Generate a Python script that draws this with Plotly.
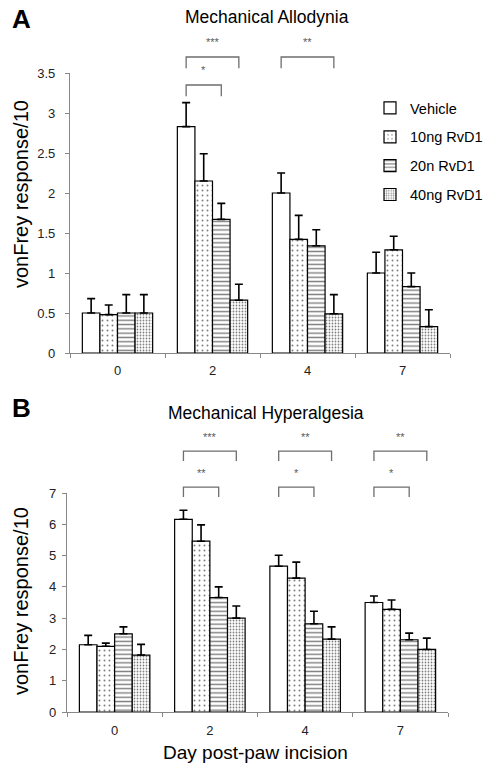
import plotly.graph_objects as go

# page body has an 8px default margin; the figure is sized to fit the 493x771 window
OFF = 8
W, H = 493 - OFF, 771 - OFF

def px(x):
    return (x - OFF) / W

def py(y):
    return 1 - (y - OFF) / H

days = ["0", "2", "4", "7"]
series = ["Vehicle", "10ng RvD1", "20n RvD1", "40ng RvD1"]

# Panel A: Mechanical Allodynia
allo_vehicle = [0.50, 2.83, 2.00, 1.00]
allo_10ng = [0.48, 2.15, 1.42, 1.29]
allo_20n = [0.50, 1.67, 1.34, 0.83]
allo_40ng = [0.50, 0.66, 0.49, 0.33]
allo_sem_vehicle = [0.18, 0.30, 0.25, 0.26]
allo_sem_10ng = [0.12, 0.34, 0.30, 0.17]
allo_sem_20n = [0.23, 0.20, 0.20, 0.17]
allo_sem_40ng = [0.23, 0.20, 0.24, 0.21]

# Panel B: Mechanical Hyperalgesia
hyper_vehicle = [2.15, 6.16, 4.66, 3.50]
hyper_10ng = [2.10, 5.46, 4.28, 3.28]
hyper_20n = [2.50, 3.66, 2.82, 2.31]
hyper_40ng = [1.82, 3.00, 2.33, 2.00]
hyper_sem_vehicle = [0.30, 0.29, 0.35, 0.21]
hyper_sem_10ng = [0.10, 0.52, 0.51, 0.30]
hyper_sem_20n = [0.22, 0.34, 0.40, 0.21]
hyper_sem_40ng = [0.34, 0.39, 0.39, 0.36]

# significance brackets: (group index, from series, to series, bracket level, label)
allo_brackets = [(1, 0, 3, 3.70, "***"), (1, 0, 2, 3.35, "*"), (2, 0, 3, 3.70, "**")]
hyper_brackets = [(1, 0, 3, 8.34, "***"), (1, 0, 2, 7.19, "**"),
                  (2, 0, 3, 8.34, "**"), (2, 0, 2, 7.19, "*"),
                  (3, 0, 3, 8.34, "**"), (3, 0, 2, 7.19, "*")]

patterns = [
    dict(shape=""),
    dict(shape=".", size=5, solidity=0.12, fgcolor="black", bgcolor="white", fillmode="overlay"),
    dict(shape="-", size=4.3, solidity=0.33, fgcolor="black", bgcolor="white", fillmode="overlay"),
    dict(shape=".", size=3, solidity=0.28, fgcolor="black", bgcolor="white", fillmode="overlay"),
]

BARGAP = 0.26

fig = go.Figure()

panels = [
    dict(vals=[allo_vehicle, allo_10ng, allo_20n, allo_40ng],
         sems=[allo_sem_vehicle, allo_sem_10ng, allo_sem_20n, allo_sem_40ng],
         xa="x", ya="y", showleg=True, brackets=allo_brackets,
         dom_y=[py(353), py(73)], rng=[0, 3.5], dom_x=[px(70), px(450)],
         ticks=[0, 0.5, 1, 1.5, 2, 2.5, 3, 3.5], drop=0.14, txt=0.19, ytitle_y=194,
         ystand=7),
    dict(vals=[hyper_vehicle, hyper_10ng, hyper_20n, hyper_40ng],
         sems=[hyper_sem_vehicle, hyper_sem_10ng, hyper_sem_20n, hyper_sem_40ng],
         xa="x2", ya="y2", showleg=False, brackets=hyper_brackets,
         dom_y=[py(712), py(493)], rng=[0, 7], dom_x=[px(67), px(448)],
         ticks=[0, 1, 2, 3, 4, 5, 6, 7], drop=0.32, txt=0.45, ytitle_y=601,
         ystand=3),
]

for p in panels:
    for i, name in enumerate(series):
        fig.add_trace(go.Bar(
            x=days, y=p["vals"][i], name=name, xaxis=p["xa"], yaxis=p["ya"],
            showlegend=p["showleg"], legendgroup=name,
            marker=dict(color="white", line=dict(color="black", width=1.2),
                        pattern=patterns[i]),
            error_y=dict(type="data", symmetric=False, array=p["sems"][i],
                         arrayminus=[0] * len(days), color="black",
                         thickness=1.6, width=4),
        ))

shapes = []
annotations = []

def offset(i):
    w = (1 - BARGAP) / len(series)
    return -(1 - BARGAP) / 2 + (i + 0.5) * w

for p in panels:
    d0, d1 = p["dom_y"]
    r0, r1 = p["rng"]
    def to_paper(v, d0=d0, d1=d1, r0=r0, r1=r1):
        return d0 + (v - r0) / (r1 - r0) * (d1 - d0)
    for g, a, b, lvl, lab in p["brackets"]:
        xa_ = g + offset(a)
        xb_ = g + offset(b)
        ytop = to_paper(lvl)
        ybot = to_paper(lvl - p["drop"])
        shapes.append(dict(type="path", xref=p["xa"], yref="paper",
                           path=f"M {xa_},{ybot} L {xa_},{ytop} L {xb_},{ytop} L {xb_},{ybot}",
                           line=dict(color="#6e6e6e", width=1.3)))
        annotations.append(dict(x=(xa_ + xb_) / 2, y=to_paper(lvl + p["txt"]),
                                xref=p["xa"], yref="paper", text=lab, showarrow=False,
                                font=dict(size=11, color="#5a5a5a"),
                                xanchor="center", yanchor="middle"))
    annotations.append(dict(x=px(21), y=py(p["ytitle_y"]), xref="paper", yref="paper",
                            text="vonFrey response/10", textangle=-90, showarrow=False,
                            font=dict(size=20, color="black"), xanchor="center", yanchor="middle"))

font_family = "Liberation Sans, Arial, sans-serif"
annotations += [
    dict(x=px(21), y=py(19), xref="paper", yref="paper", text="<b>A</b>", showarrow=False,
         font=dict(size=26, color="black"), xanchor="center", yanchor="middle"),
    dict(x=px(267), y=py(17), xref="paper", yref="paper", text="Mechanical Allodynia",
         showarrow=False, font=dict(size=17.5, color="black"), xanchor="center", yanchor="middle"),
    dict(x=px(21), y=py(408), xref="paper", yref="paper", text="<b>B</b>", showarrow=False,
         font=dict(size=26, color="black"), xanchor="center", yanchor="middle"),
    dict(x=px(266), y=py(413), xref="paper", yref="paper", text="Mechanical Hyperalgesia",
         showarrow=False, font=dict(size=17.5, color="black"), xanchor="center", yanchor="middle"),
    dict(x=px(256), y=py(752), xref="paper", yref="paper", text="Day post-paw incision",
         showarrow=False, font=dict(size=19, color="black"), xanchor="center", yanchor="middle"),
]

axis_common = dict(showline=True, linecolor="#888888", linewidth=1.2, showgrid=False,
                   zeroline=False, ticks="outside", tickcolor="#888888", ticklen=4,
                   automargin=False, tickfont=dict(size=13, color="#222222"))

p0, p1 = panels
fig.update_layout(
    width=W, height=H, margin=dict(l=0, r=0, t=0, b=0),
    paper_bgcolor="white", plot_bgcolor="white",
    font=dict(family=font_family, color="black"),
    barmode="group", bargap=BARGAP, bargroupgap=0,
    xaxis=dict(domain=p0["dom_x"], anchor="y", type="category", tickson="boundaries",
               ticklabelstandoff=5, **axis_common),
    yaxis=dict(domain=p0["dom_y"], anchor="x", range=p0["rng"], tickvals=p0["ticks"],
               ticklabelstandoff=p0["ystand"], **axis_common),
    xaxis2=dict(domain=p1["dom_x"], anchor="y2", type="category", tickson="boundaries",
                ticklabelstandoff=6, **axis_common),
    yaxis2=dict(domain=p1["dom_y"], anchor="x2", range=p1["rng"], tickvals=p1["ticks"],
                ticklabelstandoff=p1["ystand"], **axis_common),
    legend=dict(x=px(370), y=py(92), xanchor="left", yanchor="top",
                font=dict(size=14.5), tracegroupgap=7, bgcolor="rgba(0,0,0,0)"),
    shapes=shapes, annotations=annotations,
)

fig.write_html("out.html")
